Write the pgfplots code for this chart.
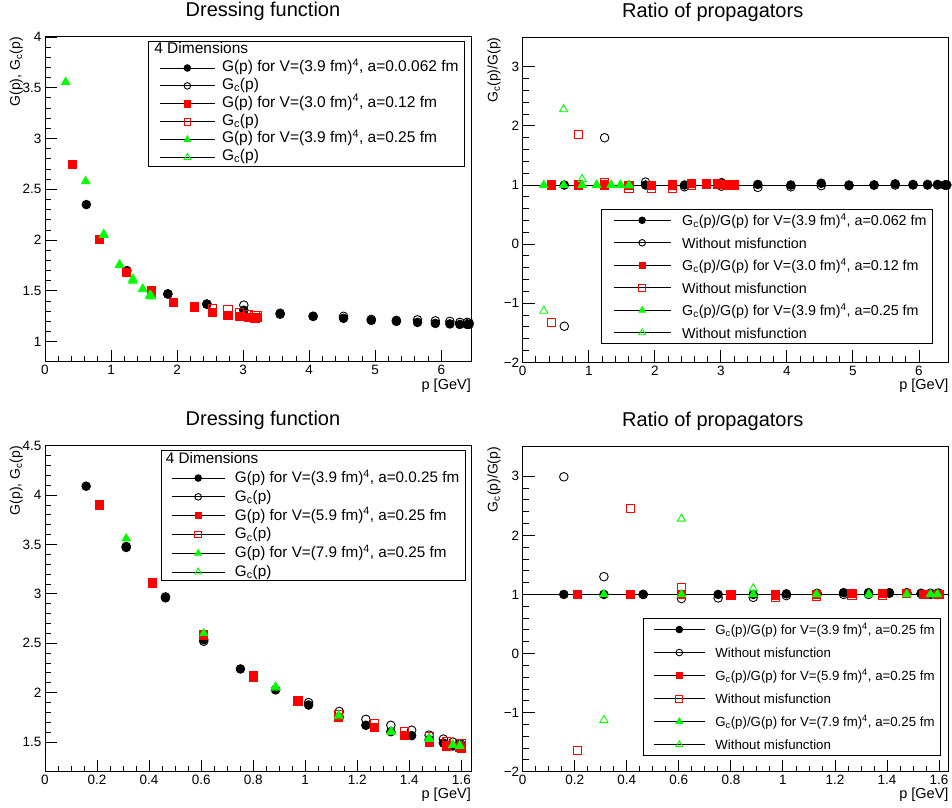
\documentclass[border=0pt]{standalone}
\usepackage{fontspec}
\setmainfont{Liberation Sans}
\usepackage{pgfplots}
\pgfplotsset{compat=1.18}
\definecolor{rootred}{rgb}{1,0,0}
\definecolor{rootgreen}{rgb}{0,1,0}
\def\leglen{55}
\def\leglead{7}
\newcommand{\legimg}[1]{%
  \path[draw=none, fill=none] (0bp,0bp) -- (\leglead bp,0bp);
  \draw[black, line width=0.9bp] (\leglead bp,0bp) -- ++(\leglen bp,0bp);
  \draw[line width=0.9bp, #1] plot coordinates {(\leglead bp+\leglen bp/2,0bp)};}
\pgfplotsset{
 rootaxis/.style={
   scale only axis, width=426bp, height=325bp,
   axis line style={line width=1bp},
   tick pos=left, tick align=inside,
   major tick length=12bp, minor tick length=6bp,
   every tick/.style={black, line width=0.9bp},
   every minor tick/.style={black, line width=0.9bp},
   /pgf/number format/assume math mode=true,
   ticklabel style={font=\fontsize{13.5bp}{15bp}\selectfont},
   every axis x label/.style={font=\fontsize{14.5bp}{17bp}\selectfont, at={([yshift=-16.5bp]rel axis cs:1,0)}, anchor=north east, inner sep=0pt},
   every axis y label/.style={font=\fontsize{14bp}{17bp}\selectfont, at={([xshift=-22bp]rel axis cs:0,1)}, anchor=south east, rotate=90, inner sep=0pt},
   legend cell align=left,
   xlabel={p [GeV]},
 },
 lefttitle/.style={every axis title/.style={font=\fontsize{20bp}{24bp}\selectfont, at={([xshift=5bp,yshift=20bp]rel axis cs:0.5,1)}, anchor=base}},
 righttitle/.style={every axis title/.style={font=\fontsize{20bp}{24bp}\selectfont, at={([xshift=-23bp,yshift=20bp]rel axis cs:0.5,1)}, anchor=base}},
 bfill/.style={only marks, mark=*, mark size=4.3bp, black, mark options={line width=0.9bp},
   legend image code/.code={\legimg{black, mark=*, mark size=3.3bp}}},
 bopen/.style={only marks, mark=o, mark size=4.3bp, black, mark options={line width=0.9bp},
   legend image code/.code={\legimg{black, mark=o, mark size=3.3bp, line width=1.1bp}}},
 rfill/.style={only marks, mark=square*, mark size=4.1bp, rootred, mark options={line width=0.9bp},
   legend image code/.code={\legimg{rootred, mark=square*, mark size=3.2bp}}},
 ropen/.style={only marks, mark=square, mark size=4.1bp, rootred, mark options={line width=0.9bp},
   legend image code/.code={\legimg{rootred, mark=square, mark size=3.4bp, line width=1.2bp}}},
 gfill/.style={only marks, mark=triangle*, mark size=4.7bp, rootgreen, mark options={line width=0.9bp},
   legend image code/.code={\legimg{rootgreen, mark=triangle*, mark size=3.7bp}}},
 gopen/.style={only marks, mark=triangle, mark size=4.7bp, rootgreen, mark options={line width=0.9bp},
   legend image code/.code={\legimg{rootgreen, mark=triangle, mark size=3.9bp, line width=1.1bp}}},
}
\begin{document}
\begin{tikzpicture}
\path[use as bounding box] (0,0) rectangle (952bp,808bp);

% ---------------- top left
\def\leglen{55}\def\leglead{6.7}
\begin{axis}[rootaxis, lefttitle, at={(45bp,446bp)}, anchor=south west,
  title={Dressing function},
  ylabel={G(p), G\textsubscript{c}(p)},
  xmin=0, xmax=6.45, ymin=0.8, ymax=4,
  xtick={0,1,2,3,4,5,6}, minor x tick num=4,
  ytick={1,1.5,2,2.5,3,3.5,4}, minor y tick num=4,
  legend style={at={(rel axis cs:1,1)}, anchor=north east, xshift=-6bp, yshift=-4bp,
    draw=black, line width=0.9bp, inner xsep=5bp, inner ysep=0bp, row sep=0.6bp, column sep=5.7bp,
    font=\fontsize{15.5bp}{18bp}\selectfont,
    nodes={inner sep=1bp, text height=11bp, text depth=4.3bp}},
]
\addlegendimage{empty legend}
\addlegendentry{\hspace*{-67.7bp}4 Dimensions}
\addplot[bfill] coordinates {(0.626,2.35)(1.24,1.70)(1.86,1.47)(2.45,1.37)(3.01,1.31)(3.56,1.28)(4.06,1.25)(4.52,1.23)(4.94,1.21)(5.32,1.20)(5.64,1.19)(5.91,1.18)(6.13,1.175)(6.28,1.17)(6.39,1.17)(6.42,1.17)};
\addlegendentry{G(p) for V=(3.9 fm)\textsuperscript{4}, a=0.0.062 fm}
\addplot[bopen] coordinates {(1.86,1.47)(2.45,1.37)(3.01,1.36)(3.56,1.27)(4.06,1.25)(4.52,1.25)(4.94,1.22)(5.32,1.21)(5.64,1.215)(5.91,1.205)(6.13,1.20)(6.28,1.19)(6.39,1.19)(6.42,1.185)};
\addlegendentry{G\textsubscript{c}(p)}
\addplot[rfill] coordinates {(0.42,2.745)(0.83,2.01)(1.23,1.68)(1.61,1.49)(1.94,1.39)(2.26,1.34)(2.54,1.29)(2.77,1.26)(2.95,1.245)(3.08,1.24)(3.18,1.23)(3.21,1.235)};
\addlegendentry{G(p) for V=(3.0 fm)\textsuperscript{4}, a=0.12 fm}
\addplot[ropen] coordinates {(1.61,1.50)(1.94,1.39)(2.26,1.345)(2.54,1.33)(2.77,1.32)(2.95,1.29)(3.08,1.27)(3.18,1.26)(3.21,1.255)};
\addlegendentry{G\textsubscript{c}(p)}
\addplot[gfill] coordinates {(0.313,3.557)(0.616,2.58)(0.89,2.05)(1.13,1.755)(1.33,1.60)(1.48,1.52)(1.59,1.45)(1.61,1.445)};
\addlegendentry{G(p) for V=(3.9 fm)\textsuperscript{4}, a=0.25 fm}
\addplot[gopen] coordinates {(0.89,2.06)(1.13,1.76)(1.33,1.62)(1.48,1.515)(1.59,1.46)(1.61,1.45)};
\addlegendentry{G\textsubscript{c}(p)}
\end{axis}

% ---------------- top right
\def\leglen{57}\def\leglead{7}
\begin{axis}[rootaxis, righttitle, at={(522.7bp,445.7bp)}, anchor=south west,
  title={Ratio of propagators},
  ylabel={G\textsubscript{c}(p)/G(p)},
  xmin=0, xmax=6.45, ymin=-2, ymax=3.5,
  xtick={0,1,2,3,4,5,6}, minor x tick num=4,
  ytick={-2,-1,0,1,2,3}, yticklabels={−2,−1,0,1,2,3}, minor y tick num=4,
  legend style={at={(rel axis cs:1,0)}, anchor=south east, xshift=-15.7bp, yshift=18.3bp,
    draw=black, line width=0.9bp, inner xsep=5bp, inner ysep=1bp, row sep=3bp, column sep=10bp,
    font=\fontsize{14.3bp}{17bp}\selectfont,
    nodes={inner sep=1bp, text height=14bp, text depth=3.5bp}},
]
\addplot[black, line width=1bp, forget plot] coordinates {(0,1)(6.45,1)};
\addplot[bfill] coordinates {(0.63,1)(1.24,1)(1.86,1)(2.45,1)(3.01,1.04)(3.56,1.01)(4.06,1.0)(4.52,1.03)(4.94,1.0)(5.32,1.0)(5.64,1.02)(5.91,1.01)(6.13,1.01)(6.28,1.01)(6.39,1.0)(6.42,1.0)};
\addlegendentry{G\textsubscript{c}(p)/G(p) for V=(3.9 fm)\textsuperscript{4}, a=0.062 fm}
\addplot[bopen] coordinates {(0.63,-1.39)(1.24,1.80)(1.86,1.05)(2.45,0.97)(3.01,0.98)(3.56,0.96)(4.06,0.97)(4.52,0.99)(4.94,0.99)(5.32,1.0)(5.64,1.0)(5.91,1.0)(6.13,1.0)(6.28,1.0)(6.39,1.0)(6.42,1.0)};
\addlegendentry{Without misfunction}
\addplot[rfill] coordinates {(0.43,1)(0.84,1)(1.24,1)(1.61,0.99)(1.95,0.99)(2.27,1.0)(2.55,1.02)(2.78,1.03)(2.95,1.02)(3.08,1.01)(3.18,1.0)(3.21,1.0)};
\addlegendentry{G\textsubscript{c}(p)/G(p) for V=(3.0 fm)\textsuperscript{4}, a=0.12 fm}
\addplot[ropen] coordinates {(0.43,-1.32)(0.84,1.86)(1.24,1.05)(1.61,0.95)(1.95,0.95)(2.27,0.95)(2.55,0.99)(2.78,1.01)(2.95,1.01)(3.08,1.0)(3.18,1.0)(3.21,1.0)};
\addlegendentry{Without misfunction}
\addplot[gfill] coordinates {(0.32,1)(0.62,1)(0.9,1)(1.12,1)(1.34,1)(1.48,1)(1.61,1)};
\addlegendentry{G\textsubscript{c}(p)/G(p) for V=(3.9 fm)\textsuperscript{4}, a=0.25 fm}
\addplot[gopen] coordinates {(0.32,-1.13)(0.62,2.28)(0.9,1.10)(1.12,1.0)(1.34,1.0)(1.48,1.0)(1.61,0.99)};
\addlegendentry{Without misfunction}
\end{axis}

% ---------------- bottom left
\def\leglen{53.3}\def\leglead{5.4}
\begin{axis}[rootaxis, lefttitle, at={(45bp,36.3bp)}, anchor=south west, height=326bp,
  title={Dressing function},
  ylabel={G(p), G\textsubscript{c}(p)},
  xmin=0, xmax=1.637, ymin=1.2, ymax=4.5,
  xtick={0,0.2,0.4,0.6,0.8,1,1.2,1.4,1.6}, minor x tick num=3,
  ytick={1.5,2,2.5,3,3.5,4,4.5}, minor y tick num=4,
  legend style={at={(rel axis cs:1,1)}, anchor=north east, xshift=-5.3bp, yshift=-4.3bp,
    draw=black, line width=0.9bp, inner xsep=5bp, inner ysep=0bp, row sep=1.2bp, column sep=8.7bp,
    font=\fontsize{15.25bp}{18bp}\selectfont,
    nodes={inner sep=1bp, text height=12.3bp, text depth=3.3bp}},
]
\addlegendimage{empty legend}
\addlegendentry{\hspace*{-69bp}4 Dimensions}
\addplot[bfill] coordinates {(0.158,4.09)(0.312,3.47)(0.463,2.96)(0.61,2.535)(0.751,2.24)(0.886,2.03)(1.013,1.875)(1.131,1.75)(1.233,1.67)(1.329,1.605)(1.409,1.565)(1.476,1.524)(1.531,1.49)(1.567,1.46)(1.594,1.457)(1.60,1.45)};
\addlegendentry{G(p) for V=(3.9 fm)\textsuperscript{4}, a=0.0.25 fm}
\addplot[bopen] coordinates {(0.312,3.48)(0.463,2.97)(0.61,2.52)(0.886,2.03)(1.013,1.90)(1.131,1.81)(1.233,1.73)(1.329,1.67)(1.409,1.62)(1.476,1.57)(1.531,1.53)(1.567,1.50)(1.594,1.48)(1.60,1.47)};
\addlegendentry{G\textsubscript{c}(p)}
\addplot[rfill] coordinates {(0.209,3.90)(0.413,3.11)(0.61,2.58)(0.80,2.16)(0.972,1.915)(1.129,1.75)(1.265,1.65)(1.382,1.565)(1.476,1.497)(1.542,1.46)(1.594,1.45)(1.60,1.44)};
\addlegendentry{G(p) for V=(5.9 fm)\textsuperscript{4}, a=0.25 fm}
\addplot[ropen] coordinates {(0.61,2.59)(0.80,2.17)(0.972,1.92)(1.129,1.78)(1.265,1.69)(1.382,1.61)(1.476,1.555)(1.542,1.51)(1.594,1.49)(1.60,1.48)};
\addlegendentry{G\textsubscript{c}(p)}
\addplot[gfill] coordinates {(0.312,3.56)(0.61,2.60)(0.886,2.06)(1.129,1.77)(1.33,1.60)(1.476,1.54)(1.567,1.47)(1.594,1.46)};
\addlegendentry{G(p) for V=(7.9 fm)\textsuperscript{4}, a=0.25 fm}
\addplot[gopen] coordinates {(0.886,2.05)(1.129,1.76)(1.33,1.61)(1.476,1.53)(1.567,1.47)(1.594,1.46)};
\addlegendentry{G\textsubscript{c}(p)}
\end{axis}

% ---------------- bottom right
\def\leglen{51.3}\def\leglead{5.3}
\begin{axis}[rootaxis, righttitle, at={(522.7bp,36.3bp)}, anchor=south west,
  title={Ratio of propagators},
  ylabel={G\textsubscript{c}(p)/G(p)},
  xmin=0, xmax=1.637, ymin=-2, ymax=3.5,
  xtick={0,0.2,0.4,0.6,0.8,1,1.2,1.4,1.6}, minor x tick num=3,
  ytick={-2,-1,0,1,2,3}, yticklabels={−2,−1,0,1,2,3}, minor y tick num=4,
  legend style={at={(rel axis cs:1,0)}, anchor=south east, xshift=-7.7bp, yshift=15.7bp,
    draw=black, line width=0.9bp, inner xsep=5bp, inner ysep=1bp, row sep=3bp, column sep=9bp,
    font=\fontsize{13.25bp}{16bp}\selectfont,
    nodes={inner sep=1bp, text height=14bp, text depth=4bp}},
]
\addplot[black, line width=1bp, forget plot] coordinates {(0,1)(1.637,1)};
\addplot[bfill] coordinates {(0.158,1)(0.312,1)(0.463,1)(0.61,1)(0.751,1)(0.886,1)(1.013,1.01)(1.131,1.02)(1.233,1.03)(1.329,1.03)(1.409,1.03)(1.476,1.03)(1.531,1.02)(1.567,1.02)(1.594,1.02)(1.60,1.02)};
\addlegendentry{G\textsubscript{c}(p)/G(p) for V=(3.9 fm)\textsuperscript{4}, a=0.25 fm}
\addplot[bopen] coordinates {(0.158,2.99)(0.312,1.30)(0.463,1.0)(0.61,0.93)(0.751,0.94)(0.886,0.95)(1.013,0.98)(1.131,1.0)(1.233,1.0)(1.329,1.0)(1.409,1.02)(1.476,1.02)(1.531,1.01)(1.567,1.0)(1.594,1.0)(1.60,1.0)};
\addlegendentry{Without misfunction}
\addplot[rfill] coordinates {(0.209,1)(0.413,1)(0.61,1)(0.80,0.99)(0.972,0.99)(1.129,1.0)(1.265,1.01)(1.382,1.02)(1.476,1.01)(1.542,1.0)(1.594,1.0)(1.60,1.0)};
\addlegendentry{G\textsubscript{c}(p)/G(p) for V=(5.9 fm)\textsuperscript{4}, a=0.25 fm}
\addplot[ropen] coordinates {(0.209,-1.64)(0.413,2.46)(0.61,1.12)(0.80,0.99)(0.972,0.95)(1.129,0.97)(1.265,0.98)(1.382,0.98)(1.476,1.01)(1.542,1.0)(1.594,1.0)(1.60,1.0)};
\addlegendentry{Without misfunction}
\addplot[gfill] coordinates {(0.312,1)(0.61,1)(0.886,1)(1.129,1)(1.33,1)(1.476,1)(1.567,1)(1.594,1)};
\addlegendentry{G\textsubscript{c}(p)/G(p) for V=(7.9 fm)\textsuperscript{4}, a=0.25 fm}
\addplot[gopen] coordinates {(0.312,-1.13)(0.61,2.28)(0.886,1.10)(1.129,1.0)(1.33,1.0)(1.476,1.0)(1.567,1.0)(1.594,1.0)};
\addlegendentry{Without misfunction}
\end{axis}
\end{tikzpicture}
\end{document}
